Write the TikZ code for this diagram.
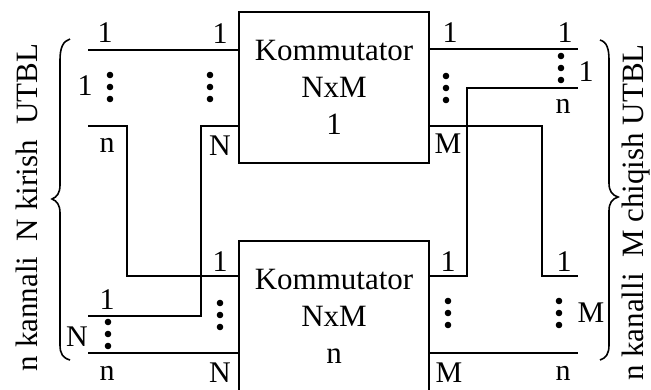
\documentclass[tikz,border=0pt]{standalone}
\usepackage{fontspec}
\setmainfont{Liberation Serif}
\begin{document}
\begin{tikzpicture}[x=1pt,y=-1pt,
  wire/.style={line width=2pt},
  box/.style={draw,line width=2pt,minimum width=190pt,minimum height=151pt,inner sep=0pt,align=center,font=\fontsize{31}{37}\selectfont},
  lbl/.style={inner sep=0pt,font=\fontsize{30}{34}\selectfont},
  side/.style={inner sep=0pt,rotate=90,anchor=base,font=\fontsize{31}{34}\selectfont},
  vdots3/.pic={\fill (0,-12) circle (3.3pt) (0,0) circle (3.3pt) (0,12) circle (3.3pt);}]
\useasboundingbox (0,0) rectangle (651,389);
\clip (0,0) rectangle (651,389);
% boxes
\node[box] (tb) at (334,87.5) {Kommutator\\NxM\\1};
\node[box] (bb) at (334,316) {Kommutator\\NxM\\n};
% coordinates
\coordinate (A1) at (88,50);
\coordinate (An) at (88,126);
\coordinate (Ak) at (127,126);
\coordinate (TI1) at (239,50);
\coordinate (TN) at (239,126);
\coordinate (BI1) at (239,276);
\coordinate (BN) at (239,353);
\coordinate (C1) at (201,316);
\coordinate (B1) at (88,316);
\coordinate (Bn) at (88,353);
\coordinate (TO1) at (429,49);
\coordinate (TM) at (429,126);
\coordinate (BO1) at (429,276);
\coordinate (BM) at (429,353);
\coordinate (R1) at (578,49);
\coordinate (Rn) at (578,88);
\coordinate (C2) at (467,88);
\coordinate (C3) at (542,276);
\coordinate (RB1) at (578,276);
\coordinate (RBn) at (578,353);
% wires
\draw[wire] (A1) -- (TI1);
\draw[wire] (An) -- (Ak) |- (BI1);
\draw[wire] (TN) -| (C1) -- (B1);
\draw[wire] (Bn) -- (BN);
\draw[wire] (TO1) -- (R1);
\draw[wire] (BO1) -| (C2) -- (Rn);
\draw[wire] (TM) -| (C3) -- (RB1);
\draw[wire] (BM) -- (RBn);
% dots
\pic at (110,87) {vdots3};
\pic at (210,87) {vdots3};
\pic at (446,88) {vdots3};
\pic at (561,68) {vdots3};
\pic at (108,334) {vdots3};
\pic at (220,315) {vdots3};
\pic at (448,313) {vdots3};
\pic at (559,313) {vdots3};
% labels top-left
\node[lbl] (t1) at (105,33) {1};
\node[lbl] (t2) at (220,34) {1};
\node[lbl] (t3) at (85,86) {1};
\node[lbl] (t4) at (107,145) {n};
\node[lbl] (t5) at (220,146) {N};
% labels top-right
\node[lbl] (t6) at (450,33) {1};
\node[lbl] (t7) at (565,33) {1};
\node[lbl] (t8) at (586,72) {1};
\node[lbl] (t9) at (563,106) {n};
\node[lbl] (t10) at (448,144) {M};
% labels bottom-left
\node[lbl] (b1) at (220,262) {1};
\node[lbl] (b2) at (107,300) {1};
\node[lbl] (b3) at (77,337) {N};
\node[lbl] (b4) at (107,373) {n};
\node[lbl] (b5) at (220,373) {N};
% labels bottom-right
\node[lbl] (b6) at (448,262) {1};
\node[lbl] (b7) at (564,262) {1};
\node[lbl] (b8) at (591,313) {M};
\node[lbl] (b9) at (449,373) {M};
\node[lbl] (b10) at (563,373) {n};
% braces
\draw[line width=1.6pt] (70,39) .. controls (63,41) and (60,48) .. (60,60) -- (60,185) .. controls (60,193) and (57,197) .. (52,199) .. controls (57,201) and (60,205) .. (60,213) -- (60,345) .. controls (60,354) and (63,358) .. (70,360);
\draw[line width=1.6pt] (600,40) .. controls (607,42) and (609,49) .. (609,60) -- (609,183) .. controls (609,191) and (612,195) .. (618,197) .. controls (612,199) and (609,203) .. (609,211) -- (609,345) .. controls (609,354) and (606,358) .. (600,360);
% side texts
\node[side] (ls) at (37,207.5) {n kannali\ \ N kirish\ \ UTBL};
\node[side] (rs) at (643,212.5) {n kanalli\ \ M chiqish UTBL};
\end{tikzpicture}
\end{document}
